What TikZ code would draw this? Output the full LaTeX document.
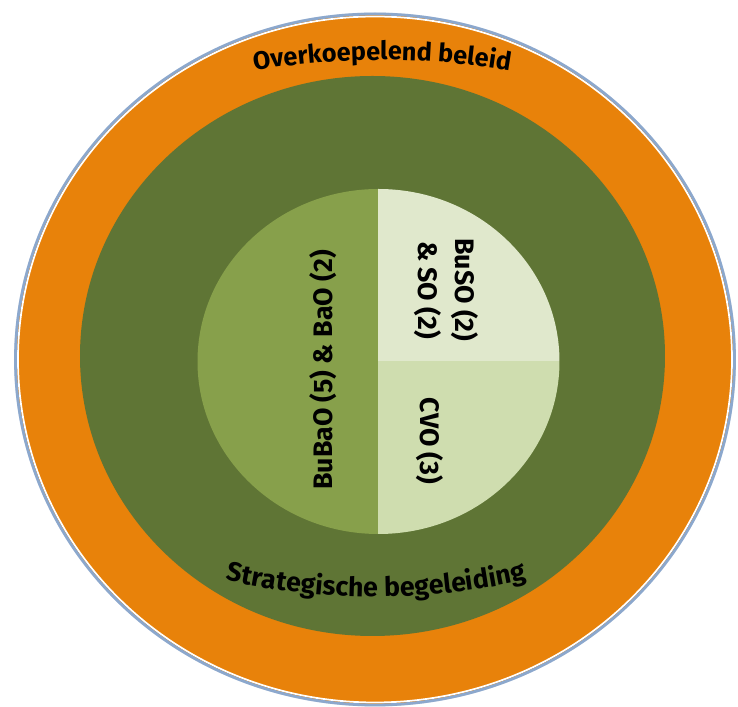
\documentclass[tikz,border=0pt]{standalone}
\usepackage{fontspec}
\setsansfont{Fira Sans}
\usetikzlibrary{decorations.text, positioning, calc}
\definecolor{ringorange}{RGB}{232,130,10}
\definecolor{ringgreen}{RGB}{95,117,53}
\definecolor{halfgreen}{RGB}{135,160,75}
\definecolor{quartlight}{RGB}{224,232,204}
\definecolor{quartmid}{RGB}{207,221,175}
\definecolor{rimblue}{RGB}{140,168,205}
\tikzset{ring/.style = {draw=none, fill=#1}}
\tikzset{label/.style = {
  font=\sffamily\bfseries\fontsize{7.6}{10.6}\selectfont,
  text=black, inner sep=0pt,
  align=center
  }}
\tikzset{arctext/.style 2 args = {
  decorate,
  decoration={text along path, text align=center,
    text={|\sffamily\bfseries\fontsize{#1}{10}\selectfont|#2}}
  }}

\begin{document}
\begin{tikzpicture}
\useasboundingbox (0,0) rectangle (7.38,7.07);

\pgfmathsetmacro{\Rin}{1.81};
\pgfmathsetmacro{\Rinv}{1.725};

    % Outer ring
    \coordinate (O) at (3.75,3.475);
    \fill[rimblue!40] (O) ellipse [x radius=3.61, y radius=3.47];
    \path[ring=ringorange] (O) ellipse [x radius=3.59, y radius=3.45];
    \draw[white, line width=0.5pt] (O) ellipse [x radius=3.57, y radius=3.43];
    \draw[rimblue, line width=0.8pt] (O) ellipse [x radius=3.595, y radius=3.455];

    % Middle ring
    \coordinate (M) at (3.725,3.51);
    \path[ring=ringgreen] (M) ellipse [x radius=2.925, y radius=2.80];

    % Inner disc
    \coordinate (C) at (3.785,3.455);
    \begin{scope}
    \clip (C) ellipse [x radius=\Rin, y radius=\Rinv];
    \fill[halfgreen] ($(C)+(-2,-2)$) rectangle ($(C)+(0,2)$);
    \fill[quartlight] (C) rectangle ($(C)+(2,2)$);
    \fill[quartmid] (C) rectangle ($(C)+(2,-2)$);
    \end{scope}

    % Labels
    \node[label, rotate=90] (bubao) at (3.23,3.37) {BuBaO (5) \& BaO (2)};
    \node[label, rotate=-90] (buso) at (4.46,4.17) {BuSO (2)\\\& SO (2)};
    \node[label, rotate=-90] (cvo) at (4.30,2.66) {CVO (3)};

    % Curved texts
    \coordinate (top) at (3.82,-1.29);
    \coordinate (bot) at (3.76,7.80);
    \path[arctext={7.2}{Overkoepelend beleid}] (top) ++(115:7.76) arc (115:65:7.76);
    \path[arctext={7.6}{Strategische begeleiding}] (bot) ++(240:6.70) arc (240:300:6.70);

\end{tikzpicture}
\end{document}
